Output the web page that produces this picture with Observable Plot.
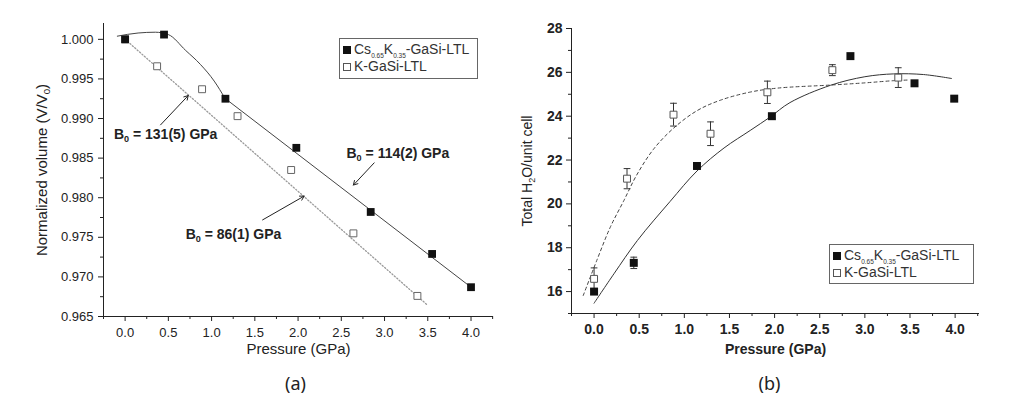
<!DOCTYPE html>
<html>
<head>
<meta charset="utf-8">
<script src="https://cdn.jsdelivr.net/npm/d3@7"></script>
<script src="https://cdn.jsdelivr.net/npm/@observablehq/plot@0.6"></script>
<style>
  body { margin: 0; background: #fff; }
  #root { position: relative; width: 1021px; height: 406px; overflow: hidden; background: #fff; font-family: "Liberation Sans", Arial, sans-serif; }
  .panel { position: absolute; top: 0; }
  .legend { position: absolute; border: 1px solid #666; background: #fff; box-sizing: border-box; padding: 2px 0 0 3px; font-size: 14px; color: #333; font-family: "Liberation Sans", Arial, sans-serif; }
  .legend .row { height: 17px; line-height: 17px; white-space: nowrap; display: flex; align-items: center; }
  .legend .sw { display: inline-block; width: 8px; height: 8px; margin-right: 3px; box-sizing: border-box; }
  .legend .sw.fill { background: #111; }
  .legend .sw.open { border: 1px solid #555; background: #fff; }
  .legend sub { font-size: 6.5px; position: relative; top: 4px; vertical-align: baseline; line-height: 0; }
</style>
</head>
<body>
<div id="root"></div>
<script>
// ---------------- Panel (a): normalized volume ----------------
const seriesNames = ["Cs_{0.65}K_{0.35}-GaSi-LTL", "K-GaSi-LTL"];

const aCsP = [0.00, 0.45, 1.16, 1.98, 2.84, 3.55, 4.00];
const aCsV = [1.0000, 1.0006, 0.9925, 0.9863, 0.9782, 0.9729, 0.9687];
const aKP  = [0.00, 0.37, 0.89, 1.30, 1.92, 2.64, 3.38];
const aKV  = [1.0000, 0.9966, 0.9937, 0.9903, 0.9835, 0.9755, 0.9676];

// fitted curve for Cs-K: curved low-pressure part, then straight part
const aFitCsCurveP = [-0.09, 0.15, 0.35, 0.50, 0.70, 0.87, 1.03, 1.155];
const aFitCsCurveV = [1.0004, 1.0008, 1.0009, 1.0006, 0.9986, 0.99684, 0.99473, 0.99255];
const aFitCsLineP  = [1.155, 4.00];
const aFitCsLineV  = [0.99255, 0.9687];
const aFitKP  = [0.00, 3.49];
const aFitKV  = [1.0000, 0.9665];

const annText  = ["B_{0} = 131(5) GPa", "B_{0} = 114(2) GPa", "B_{0} = 86(1) GPa"];
const annTextP = [-0.13, 2.56, 0.70];
const annTextV = [0.9880, 0.9856, 0.9754];
const arrowFromP = [0.41, 2.88, 1.59];
const arrowFromV = [0.9892, 0.9844, 0.9772];
const arrowToP   = [0.73, 2.64, 2.07];
const arrowToV   = [0.9929, 0.9816, 0.9802];

const aXTicks = [0, 0.5, 1, 1.5, 2, 2.5, 3, 3.5, 4];
const aXMinor = [-0.25, 0.25, 0.75, 1.25, 1.75, 2.25, 2.75, 3.25, 3.75, 4.25];
const aYTicks = [0.965, 0.970, 0.975, 0.980, 0.985, 0.990, 0.995, 1.000];
const aYMinor = [0.9675, 0.9725, 0.9775, 0.9825, 0.9875, 0.9925, 0.9975];
const aXLabel = "Pressure (GPa)";
const aYLabel = "Normalized volume (V/V_{0})";

// ---------------- Panel (b): total H2O per unit cell ----------------
const bCsP = [0.00, 0.44, 1.14, 1.97, 2.84, 3.55, 3.99];
const bCsN = [16.0, 17.31, 21.73, 24.0, 26.74, 25.5, 24.8];
const bCsE = [0.12, 0.26, 0.15, 0.12, 0.12, 0.12, 0.12];
const bKP  = [0.00, 0.365, 0.88, 1.29, 1.92, 2.64, 3.37];
const bKN  = [16.58, 21.15, 24.07, 23.2, 25.09, 26.1, 25.76];
const bKE  = [0.50, 0.46, 0.52, 0.54, 0.51, 0.25, 0.45];

const bFitCsP = [0.0, 0.22, 0.48, 0.84, 1.14, 1.44, 1.73, 1.95, 2.17, 2.62, 3.0, 3.32, 3.65, 3.96];
const bFitCsN = [15.47, 16.81, 18.33, 20.1, 21.5, 22.55, 23.35, 23.96, 24.62, 25.41, 25.8, 25.93, 25.9, 25.72];
const bFitKP  = [-0.12, 0.03, 0.18, 0.33, 0.47, 0.66, 0.88, 1.14, 1.40, 1.73, 2.03, 2.62, 3.0, 3.32, 3.48];
const bFitKN  = [15.82, 17.42, 18.94, 20.15, 21.3, 22.5, 23.45, 24.25, 24.73, 25.1, 25.28, 25.42, 25.52, 25.62, 25.65];

const bXTicks = [0, 0.5, 1, 1.5, 2, 2.5, 3, 3.5, 4];
const bXMinor = [-0.25, 0.25, 0.75, 1.25, 1.75, 2.25, 2.75, 3.25, 3.75, 4.25];
const bYTicks = [16, 18, 20, 22, 24, 26, 28];
const bYMinor = [15, 17, 19, 21, 23, 25, 27];
const bXLabel = "Pressure (GPa)";
const bYLabel = "Total H_{2}O/unit cell";

const captions = ["(a)", "(b)"];

// ---------------- helpers ----------------
const zip2 = (xs, ys, kx, ky) => xs.map((x, i) => ({[kx]: x, [ky]: ys[i]}));
const capSymbol = { draw(ctx, size) { const w = Math.sqrt(size); ctx.moveTo(-w / 2, 0); ctx.lineTo(w / 2, 0); } };
const FONT = '"Liberation Sans", Arial, sans-serif';

function applySubscripts(svg) {
  svg.querySelectorAll("text, tspan").forEach(t => {
    if (t.children.length) return;
    const s = t.textContent;
    if (!s.includes("_{")) return;
    t.textContent = "";
    for (const part of s.split(/(_\{[^}]*\})/)) {
      if (!part) continue;
      const ts = document.createElementNS("http://www.w3.org/2000/svg", "tspan");
      if (part.startsWith("_{")) {
        ts.textContent = part.slice(2, -1);
        ts.setAttribute("baseline-shift", "-30%");
        ts.setAttribute("font-size", "0.65em");
      } else ts.textContent = part;
      t.appendChild(ts);
    }
  });
}
function toHTML(s) { return s.replace(/_\{([^}]*)\}/g, "<sub>$1</sub>"); }

function addLegend(root, left, top, w, h) {
  const div = document.createElement("div");
  div.className = "legend";
  Object.assign(div.style, {left: left + "px", top: top + "px", width: w + "px", height: h + "px"});
  div.innerHTML = seriesNames.map((n, i) =>
    `<div class="row"><span class="sw ${i === 0 ? "fill" : "open"}"></span><span>${toHTML(n)}</span></div>`).join("");
  root.appendChild(div);
}

const root = document.getElementById("root");

// ---------------- draw (a) ----------------
const aCs = zip2(aCsP, aCsV, "p", "v");
const aK = zip2(aKP, aKV, "p", "v");
const aFitCsCurve = zip2(aFitCsCurveP, aFitCsCurveV, "p", "v");
const aFitCsLine = zip2(aFitCsLineP, aFitCsLineV, "p", "v");
const aFitK = zip2(aFitKP, aFitKV, "p", "v");
const aAnn = annText.map((t, i) => ({t, p: annTextP[i], v: annTextV[i]}));
const aArr = arrowFromP.map((p, i) => ({p1: p, v1: arrowFromV[i], p2: arrowToP[i], v2: arrowToV[i]}));

const plotA = Plot.plot({
  width: 510, height: 406,
  marginLeft: 103, marginRight: 17, marginTop: 23, marginBottom: 90,
  style: {fontFamily: FONT, fontSize: "13px", color: "#222", background: "transparent"},
  x: {domain: [-0.25, 4.26], label: null},
  y: {domain: [0.965, 1.002], label: null},
  marks: [
    Plot.axisX({ticks: aXMinor, tickSize: 3, tickFormat: () => "", label: null, stroke: "#222"}),
    Plot.axisY({ticks: aYMinor, tickSize: 3, tickFormat: () => "", label: null, stroke: "#222"}),
    Plot.axisX({ticks: aXTicks, tickSize: 5, tickPadding: 6, tickFormat: d3.format(".1f"), label: null, stroke: "#222", fill: "#222"}),
    Plot.axisY({ticks: aYTicks, tickSize: 5, tickPadding: 5, tickFormat: d3.format(".3f"), label: null, stroke: "#222", fill: "#222"}),
    Plot.ruleY([0.965], {stroke: "#222"}),
    Plot.ruleX([-0.25], {stroke: "#222"}),
    Plot.line(aFitK, {x: "p", y: "v", stroke: "#9a9a9a", strokeWidth: 1.3, strokeDasharray: "1.2,2"}),
    Plot.line(aFitCsCurve, {x: "p", y: "v", stroke: "#444", strokeWidth: 1, curve: "monotone-x"}),
    Plot.line(aFitCsLine, {x: "p", y: "v", stroke: "#444", strokeWidth: 1}),
    Plot.dot(aK, {x: "p", y: "v", symbol: "square", r: 3.9, fill: "#fff", stroke: "#666", strokeWidth: 1}),
    Plot.dot(aCs, {x: "p", y: "v", symbol: "square", r: 4.4, fill: "#111", stroke: "none"}),
    Plot.arrow(aArr, {x1: "p1", y1: "v1", x2: "p2", y2: "v2", stroke: "#222", strokeWidth: 1, headLength: 7}),
    Plot.text(aAnn, {x: "p", y: "v", text: "t", textAnchor: "start", fontSize: 14, fontWeight: "bold", fill: "#222"}),
    Plot.text([aXLabel], {frameAnchor: "bottom", dy: 37, fontSize: 15, fill: "#222"}),
    Plot.text([aYLabel], {frameAnchor: "left", textAnchor: "middle", dx: -61, rotate: -90, fontSize: 15, fill: "#222"}),
    Plot.text([captions[0]], {frameAnchor: "bottom", dx: -3, dy: 73, fontSize: 18, fontFamily: '"Noto Sans", sans-serif', fill: "#222"})
  ]
});
applySubscripts(plotA);
const wa = document.createElement("div");
wa.className = "panel"; wa.style.left = "0px";
wa.appendChild(plotA);
root.appendChild(wa);

// ---------------- draw (b) ----------------
const bCs = bCsP.map((p, i) => ({p, n: bCsN[i], e: bCsE[i]}));
const bK = bKP.map((p, i) => ({p, n: bKN[i], e: bKE[i]}));
const bFitCs = zip2(bFitCsP, bFitCsN, "p", "n");
const bFitK = zip2(bFitKP, bFitKN, "p", "n");

const plotB = Plot.plot({
  width: 521, height: 406,
  marginLeft: 71, marginRight: 42, marginTop: 28, marginBottom: 93,
  style: {fontFamily: FONT, fontSize: "14px", fontWeight: "bold", color: "#222", background: "transparent"},
  x: {domain: [-0.25, 4.27], label: null},
  y: {domain: [15, 28], label: null},
  marks: [
    Plot.axisX({ticks: bXMinor, tickSize: 3, tickFormat: () => "", label: null, stroke: "#222"}),
    Plot.axisY({ticks: bYMinor, tickSize: 3, tickFormat: () => "", label: null, stroke: "#222"}),
    Plot.axisX({ticks: bXTicks, tickSize: 5, tickPadding: 6, tickFormat: d3.format(".1f"), label: null, stroke: "#222", fill: "#222"}),
    Plot.axisY({ticks: bYTicks, tickSize: 5, tickPadding: 4, tickFormat: d3.format("d"), label: null, stroke: "#222", fill: "#222"}),
    Plot.ruleY([15], {stroke: "#222"}),
    Plot.ruleX([-0.25], {stroke: "#222"}),
    Plot.line(bFitK, {x: "p", y: "n", stroke: "#444", strokeWidth: 1, strokeDasharray: "3,3", curve: "catmull-rom"}),
    Plot.line(bFitCs, {x: "p", y: "n", stroke: "#333", strokeWidth: 1, curve: "catmull-rom"}),
    Plot.ruleX(bK, {x: "p", y1: d => d.n - d.e, y2: d => d.n + d.e, stroke: "#333", strokeWidth: 1}),
    Plot.dot(bK, {x: "p", y: d => d.n + d.e, symbol: capSymbol, r: 3.8, stroke: "#333", strokeWidth: 1, fill: "none"}),
    Plot.dot(bK, {x: "p", y: d => d.n - d.e, symbol: capSymbol, r: 3.8, stroke: "#333", strokeWidth: 1, fill: "none"}),
    Plot.ruleX(bCs, {x: "p", y1: d => d.n - d.e, y2: d => d.n + d.e, stroke: "#333", strokeWidth: 1}),
    Plot.dot(bCs, {x: "p", y: d => d.n + d.e, symbol: capSymbol, r: 3.8, stroke: "#333", strokeWidth: 1, fill: "none"}),
    Plot.dot(bCs, {x: "p", y: d => d.n - d.e, symbol: capSymbol, r: 3.8, stroke: "#333", strokeWidth: 1, fill: "none"}),
    Plot.dot(bK, {x: "p", y: "n", symbol: "square", r: 3.9, fill: "#fff", stroke: "#555", strokeWidth: 1}),
    Plot.dot(bCs, {x: "p", y: "n", symbol: "square", r: 4.5, fill: "#111", stroke: "none"}),
    Plot.text([bXLabel], {frameAnchor: "bottom", dy: 40, fontSize: 14, fontWeight: "bold", fill: "#222"}),
    Plot.text([bYLabel], {frameAnchor: "left", textAnchor: "middle", dx: -44, rotate: -90, fontSize: 14, fontWeight: "normal", fill: "#222"}),
    Plot.text([captions[1]], {frameAnchor: "bottom", dx: -6, dy: 76, fontSize: 18, fontWeight: "normal", fontFamily: '"Noto Sans", sans-serif', fill: "#222"})
  ]
});
applySubscripts(plotB);
const wb = document.createElement("div");
wb.className = "panel"; wb.style.left = "500px";
wb.appendChild(plotB);
root.appendChild(wb);

addLegend(root, 339, 38, 139, 41);
addLegend(root, 829, 244, 145, 40);
</script>
</body>
</html>
